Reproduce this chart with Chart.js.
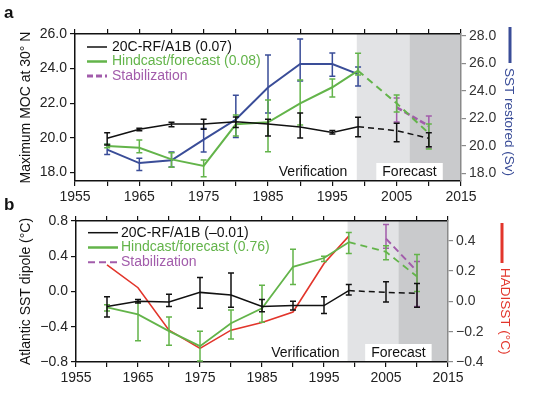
<!DOCTYPE html>
<html>
<head>
<meta charset="utf-8">
<title>MOC and Atlantic SST dipole</title>
<script src="https://cdn.jsdelivr.net/npm/chart.js@4.4.1/dist/chart.umd.min.js"></script>
<style>
  html, body { margin: 0; padding: 0; background: #fff; }
  #wrap { position: relative; width: 550px; height: 393px; overflow: hidden; }
  #wrap canvas { position: absolute; left: 0; }
  #chartA { top: 0; }
  #chartB { top: 193px; }
</style>
</head>
<body>
<div id="wrap">
  <canvas id="chartA" width="550" height="206"></canvas>
  <canvas id="chartB" width="550" height="200"></canvas>
</div>
<script>
// ---- panel a: maximum MOC at 30N (Sv) ----
const years = [1960, 1965, 1970, 1975, 1980, 1985, 1990, 1995, 1999, 2005, 2010];
const mocRF     = [19.97, 20.49, 20.79, 20.79, 20.93, 20.79, 20.62, 20.31, 20.64, 20.41, 19.97];
const mocRFLo   = [19.58, 20.41, 20.64, 20.49, 20.60, 20.10, 19.98, 20.22, 20.06, 19.77, 19.48];
const mocRFHi   = [20.29, 20.55, 20.89, 21.07, 21.20, 21.07, 21.43, 20.42, 21.18, 20.84, 20.29];
const mocHind   = [19.52, 19.42, 18.75, 18.37, 20.78, 20.89, 21.99, 22.92, 23.88, 21.99, 20.26];
const mocHindLo = [19.42, 19.13, 18.29, 17.75, 20.10, 19.19, 20.74, 22.36, 23.63, 21.49, 19.35];
const mocHindHi = [19.62, 19.87, 19.13, 18.71, 21.31, 22.18, 23.34, 23.40, 24.88, 22.47, 20.79];

const sstYears = [1960, 1965, 1970, 1975, 1980, 1985, 1990, 1995, 1999];
const sstRestored   = [19.73, 18.75, 18.95, 20.45, 21.91, 24.24, 25.94, 25.94, 25.21];
const sstRestoredLo = [19.38, 18.22, 18.46, 19.55, 20.60, 22.39, 24.70, 25.06, 24.34];
const sstRestoredHi = [20.11, 19.11, 19.55, 21.26, 23.68, 26.59, 27.76, 26.74, 25.72];

const stabYears = [2005, 2010];
const mocStab   = [21.76, 20.68];
const mocStabLo = [20.91, 19.41];
const mocStabHi = [22.30, 21.26];

// ---- panel b: Atlantic SST dipole (C) ----
const dipRF     = [-0.17, -0.11, -0.12, -0.01, -0.04, -0.17, -0.16, -0.16, 0.01, -0.01, -0.02];
const dipRFLo   = [-0.29, -0.13, -0.17, -0.19, -0.18, -0.23, -0.21, -0.25, -0.04, -0.12, -0.18];
const dipRFHi   = [-0.06, -0.09, -0.03, 0.16, 0.21, -0.09, -0.11, -0.06, 0.08, 0.11, 0.09];
const dipHind   = [-0.18, -0.26, -0.45, -0.62, -0.36, -0.19, 0.28, 0.38, 0.56, 0.45, 0.17];
const dipHindLo = [-0.22, -0.56, -0.61, -0.79, -0.54, -0.35, 0.08, 0.34, 0.43, 0.36, 0.00];
const dipHindHi = [-0.15, -0.12, -0.29, -0.45, -0.21, 0.07, 0.48, 0.40, 0.67, 0.52, 0.42];
const dipStab   = [0.60, 0.23];
const dipStabLo = [0.49, -0.17];
const dipStabHi = [0.76, 0.34];

const hadYears = [1960, 1965, 1970, 1975, 1980, 1985, 1990, 1995, 1999];
const hadisst  = [0.24, 0.09, -0.19, -0.31, -0.19, -0.14, -0.07, 0.25, 0.43];

// verification / forecast periods
const shadeFrom = [1998.8, 2007];
const shadeTo   = [2007, 2015];
const phaseLabels = ['Verification', 'Forecast'];
const phaseYears  = [1992, 2007];

const FONT = "'Liberation Sans', Arial, sans-serif";
const BLACK = '#111', GREEN = '#63b44a', BLUE = '#3a4d98', PURPLE = '#a25cab', RED = '#e2352b';

const pts = (xs, ys) => xs.map((x, i) => ({ x: x, y: ys[i] }));
const dashFrom = (yr, dash) => ctx => ctx.p0.parsed.x >= yr - 0.01 ? dash : undefined;

// one decimal, with a real minus sign
function fmt(v) {
    const r = Math.round(v * 10) / 10;
    if (Math.abs(r) < 1e-9) return '0.0';
    return (r < 0 ? '\u2212' : '') + Math.abs(r).toFixed(1);
}
// label only every second tick
const everyOther = step => v => {
    const k = v / (2 * step);
    return Math.abs(k - Math.round(k)) < 1e-6 ? fmt(v) : '';
};

// shaded periods and their labels, under the axes
const periodsPlugin = {
    id: 'periods',
    beforeDraw(chart) {
        const { ctx, chartArea: a } = chart;
        const x = chart.scales.x;
        const colors = ['#e2e3e5', '#c9cacc'];
        ctx.save();
        shadeFrom.forEach((x0, i) => {
            const l = x.getPixelForValue(x0), r = x.getPixelForValue(shadeTo[i]);
            ctx.fillStyle = colors[i];
            ctx.fillRect(l, a.top, r - l, a.bottom - a.top);
        });
        ctx.font = '14px ' + FONT;
        ctx.textAlign = 'center';
        ctx.textBaseline = 'middle';
        phaseLabels.forEach((t, i) => {
            const cx = x.getPixelForValue(phaseYears[i]);
            const w = ctx.measureText(t).width + 12;
            ctx.fillStyle = '#fff';
            ctx.fillRect(cx - w / 2, a.bottom - 18, w, 18);
            ctx.fillStyle = BLACK;
            ctx.fillText(t, cx, a.bottom - 9);
        });
        ctx.restore();
    }
};

// vertical error bars with caps, from errLo / errHi of each dataset
const errorBarPlugin = {
    id: 'errorBars',
    afterDatasetDraw(chart, args) {
        const ds = chart.data.datasets[args.index];
        if (!ds.errLo) return;
        const meta = args.meta;
        const yScale = chart.scales[meta.yAxisID];
        const ctx = chart.ctx;
        ctx.save();
        ctx.strokeStyle = ds.borderColor;
        ctx.lineWidth = 1.5;
        meta.data.forEach((pt, i) => {
            const y0 = yScale.getPixelForValue(ds.errLo[i]);
            const y1 = yScale.getPixelForValue(ds.errHi[i]);
            ctx.beginPath();
            ctx.moveTo(pt.x, y0); ctx.lineTo(pt.x, y1);
            ctx.moveTo(pt.x - 3, y0); ctx.lineTo(pt.x + 3, y0);
            ctx.moveTo(pt.x - 3, y1); ctx.lineTo(pt.x + 3, y1);
            ctx.stroke();
        });
        ctx.restore();
    }
};

// panel letter, legend inside the plot, right-hand title with colour key
const decorPlugin = {
    id: 'decor',
    afterDraw(chart, args, o) {
        const { ctx, chartArea: a } = chart;
        ctx.save();
        ctx.textAlign = 'left';
        ctx.textBaseline = 'middle';
        ctx.font = 'bold 17px ' + FONT;
        ctx.fillStyle = BLACK;
        ctx.fillText(o.letter, 4, o.letterY);

        ctx.font = '14px ' + FONT;
        chart.data.datasets.slice(0, 3).forEach((ds, i) => {
            const y = a.top + o.legendTop + i * o.legendStep;
            const x0 = a.left + 12;
            ctx.strokeStyle = ds.borderColor;
            ctx.lineWidth = ds.legendWidth;
            ctx.setLineDash(ds.borderDash || []);
            ctx.beginPath();
            ctx.moveTo(x0, y); ctx.lineTo(x0 + o.swatch, y);
            ctx.stroke();
            ctx.setLineDash([]);
            ctx.fillStyle = ds.borderColor;
            ctx.fillText(ds.label, x0 + o.swatch + o.gap, y);
        });

        ctx.strokeStyle = o.rightColor;
        ctx.lineWidth = 3;
        ctx.beginPath();
        ctx.moveTo(o.keyX, o.keyTop); ctx.lineTo(o.keyX, o.keyBottom);
        ctx.stroke();
        ctx.translate(o.titleX, o.keyBottom + 5);
        ctx.rotate(Math.PI / 2);
        ctx.font = '13.5px ' + FONT;
        ctx.fillStyle = o.rightColor;
        ctx.fillText(o.rightTitle, 0, 0);
        ctx.restore();
    }
};

function xScales(topH, bottomH) {
    const common = {
        type: 'linear', min: 1955, max: 2015,
        grid: { drawOnChartArea: false, tickLength: 5, color: BLACK, lineWidth: 1.2 },
        border: { color: BLACK, width: 1.5 }
    };
    return {
        x: Object.assign({}, common, {
            position: 'bottom',
            ticks: { stepSize: 5, autoSkip: false, maxRotation: 0, padding: 3, color: '#222',
                     font: { family: FONT, size: 14 },
                     callback: v => (v - 1955) % 10 === 0 ? String(v) : '' },
            afterFit: s => { s.height = bottomH; }
        }),
        xTop: Object.assign({}, common, {
            position: 'top',
            ticks: { stepSize: 5, autoSkip: false, maxRotation: 0, callback: () => '' },
            afterFit: s => { s.height = topH; }
        })
    };
}

function yLeft(min, max, step, title, width) {
    return {
        type: 'linear', position: 'left', min: min, max: max,
        ticks: { stepSize: step, includeBounds: false, padding: 3, color: '#222',
                 font: { family: FONT, size: 14 }, callback: everyOther(step) },
        grid: { drawOnChartArea: false, tickLength: 5, color: BLACK, lineWidth: 1.2 },
        border: { color: BLACK, width: 1.5 },
        title: { display: true, text: title, color: BLACK, font: { family: FONT, size: 14 },
                 padding: { top: 18, bottom: 0 } },
        afterFit: s => { s.width = width; }
    };
}

function yRight(min, max, step, width) {
    return {
        type: 'linear', position: 'right', min: min, max: max,
        ticks: { stepSize: step, includeBounds: false, padding: 3, color: '#333',
                 font: { family: FONT, size: 14 }, callback: everyOther(step) },
        grid: { drawOnChartArea: false, tickLength: 5, color: '#8a8a8a', lineWidth: 1.2 },
        border: { color: '#8a8a8a', width: 1.5 },
        afterFit: s => { s.width = width; }
    };
}

const baseOptions = {
    responsive: false,
    animation: false,
    layout: { padding: 0 },
    elements: { point: { radius: 0 }, line: { tension: 0 } },
    plugins: { legend: { display: false }, tooltip: { enabled: false } }
};

// panel a
new Chart(document.getElementById('chartA'), {
    type: 'line',
    data: {
        datasets: [
            { label: '20C-RF/A1B (0.07)', data: pts(years, mocRF), errLo: mocRFLo, errHi: mocRFHi,
              borderColor: BLACK, borderWidth: 1.5, legendWidth: 1.5, xAxisID: 'x', yAxisID: 'y',
              segment: { borderDash: dashFrom(1999, [6, 4]) } },
            { label: 'Hindcast/forecast (0.08)', data: pts(years, mocHind), errLo: mocHindLo, errHi: mocHindHi,
              borderColor: GREEN, borderWidth: 2, legendWidth: 2.5, xAxisID: 'x', yAxisID: 'y',
              segment: { borderDash: dashFrom(1999, [7, 5]) } },
            { label: 'Stabilization', data: pts(stabYears, mocStab), errLo: mocStabLo, errHi: mocStabHi,
              borderColor: PURPLE, borderWidth: 2.5, legendWidth: 3, borderDash: [6, 3],
              xAxisID: 'x', yAxisID: 'y' },
            { label: 'SST restored (Sv)', data: pts(sstYears, sstRestored), errLo: sstRestoredLo, errHi: sstRestoredHi,
              borderColor: BLUE, borderWidth: 2, xAxisID: 'x', yAxisID: 'y2' }
        ]
    },
    options: Object.assign({}, baseOptions, {
        scales: Object.assign(xScales(34, 25), {
            y: yLeft(17.5, 26, 1, 'Maximum MOC at 30\u00b0 N', 75),
            y2: yRight(17.45, 28.12, 1, 89)
        }),
        plugins: Object.assign({}, baseOptions.plugins, {
            decor: { letter: 'a', letterY: 13, legendTop: 13, legendStep: 14.5, swatch: 20, gap: 5,
                     rightColor: BLUE, rightTitle: 'SST restored (Sv)',
                     keyX: 510, keyTop: 27, keyBottom: 63, titleX: 509 }
        })
    }),
    plugins: [periodsPlugin, errorBarPlugin, decorPlugin]
});

// panel b
new Chart(document.getElementById('chartB'), {
    type: 'line',
    data: {
        datasets: [
            { label: '20C-RF/A1B (\u20130.01)', data: pts(years, dipRF), errLo: dipRFLo, errHi: dipRFHi,
              borderColor: BLACK, borderWidth: 1.5, legendWidth: 1.5, xAxisID: 'x', yAxisID: 'y',
              segment: { borderDash: dashFrom(1999, [6, 4]) } },
            { label: 'Hindcast/forecast (0.76)', data: pts(years, dipHind), errLo: dipHindLo, errHi: dipHindHi,
              borderColor: GREEN, borderWidth: 1.8, legendWidth: 2.5, xAxisID: 'x', yAxisID: 'y',
              segment: { borderDash: dashFrom(1999, [7, 5]) } },
            { label: 'Stabilization', data: pts(stabYears, dipStab), errLo: dipStabLo, errHi: dipStabHi,
              borderColor: PURPLE, borderWidth: 2, legendWidth: 2, borderDash: [7, 4],
              xAxisID: 'x', yAxisID: 'y' },
            { label: 'HADISST (\u00b0C)', data: pts(hadYears, hadisst),
              borderColor: RED, borderWidth: 1.6, xAxisID: 'x', yAxisID: 'y2' }
        ]
    },
    options: Object.assign({}, baseOptions, {
        scales: Object.assign(xScales(28, 31), {
            y: yLeft(-0.8, 0.8, 0.2, 'Atlantic SST dipole (\u00b0C)', 76),
            y2: yRight(-0.4, 0.53, 0.1, 102)
        }),
        plugins: Object.assign({}, baseOptions.plugins, {
            decor: { letter: 'b', letterY: 12, legendTop: 11.7, legendStep: 14.8, swatch: 30, gap: 3,
                     rightColor: RED, rightTitle: 'HADISST (\u00b0C)',
                     keyX: 502, keyTop: 30, keyBottom: 70, titleX: 505 }
        })
    }),
    plugins: [periodsPlugin, errorBarPlugin, decorPlugin]
});
</script>
</body>
</html>
